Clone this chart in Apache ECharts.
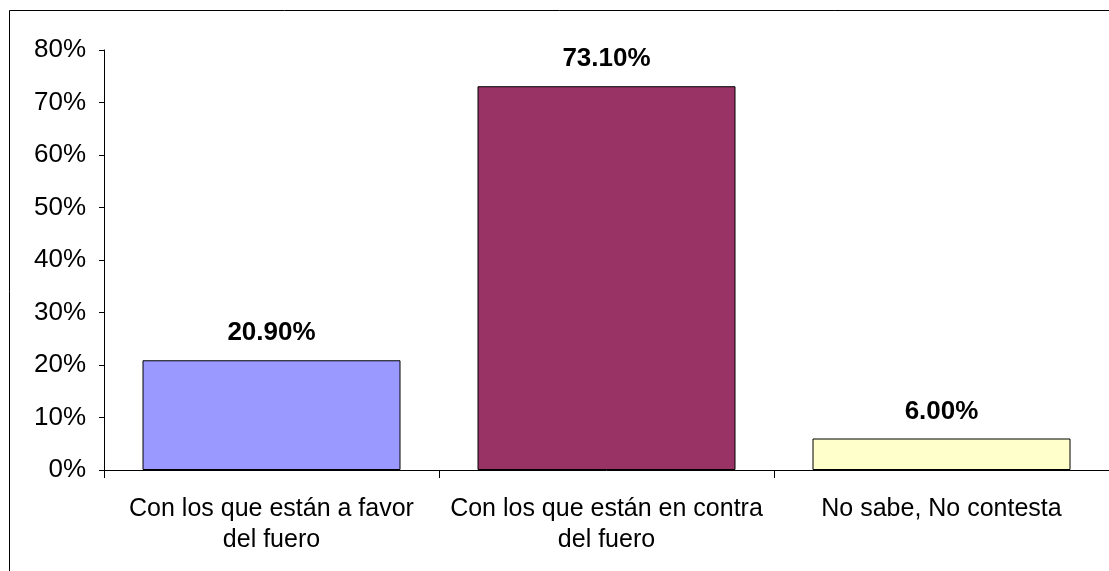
<!DOCTYPE html>
<html>
<head>
<meta charset="utf-8">
<script src="https://cdn.jsdelivr.net/npm/echarts@6/dist/echarts.min.js"></script>
<style>
html,body{margin:0;padding:0;background:#fff;}
#chart{width:1109px;height:571px;}
</style>
</head>
<body>
<div id="chart"></div>
<script>
const categories = ['Con los que están a favor del fuero', 'Con los que están en contra del fuero', 'No sabe, No contesta'];
const values = [20.9, 73.1, 6.0];
const barColors = ['#9999FF', '#993366', '#FFFFCC'];

const chart = echarts.init(document.getElementById('chart'), null, {renderer: 'canvas'});
const font = 'Liberation Sans, Arial, sans-serif';
chart.setOption({
  animation: false,
  backgroundColor: '#ffffff',
  graphic: [{
    type: 'rect',
    shape: {x: 9.5, y: 10.5, width: 1200, height: 700},
    style: {fill: 'none', stroke: '#000', lineWidth: 1},
    silent: true
  }],
  grid: {left: 104, right: 0, top: 50, bottom: 101, containLabel: false},
  xAxis: {
    type: 'category',
    data: categories,
    axisLine: {lineStyle: {color: '#000', width: 1}},
    axisTick: {show: true, length: 8, alignWithLabel: false, lineStyle: {color: '#000'}},
    axisLabel: {
      interval: 0,
      margin: 24,
      color: '#000',
      fontFamily: font,
      fontSize: 25,
      lineHeight: 31,
      formatter: v => v.replace(' del fuero', '\ndel fuero')
    },
    splitLine: {show: false}
  },
  yAxis: {
    type: 'value',
    min: 0, max: 80, interval: 10,
    axisLine: {show: true, lineStyle: {color: '#000', width: 1}},
    axisTick: {show: true, length: 5, lineStyle: {color: '#000'}},
    axisLabel: {margin: 18, color: '#000', fontFamily: font, fontSize: 26, formatter: '{value}%'},
    splitLine: {show: false}
  },
  series: [{
    type: 'bar',
    data: values.map((v, i) => ({value: v, itemStyle: {color: barColors[i]}})),
    barWidth: 258,
    itemStyle: {borderColor: '#000', borderWidth: 1},
    label: {
      show: true,
      position: 'top',
      distance: 14,
      color: '#000',
      fontFamily: font,
      fontSize: 26,
      fontWeight: 'bold',
      formatter: p => p.value.toFixed(2) + '%'
    }
  }]
});
</script>
</body>
</html>
